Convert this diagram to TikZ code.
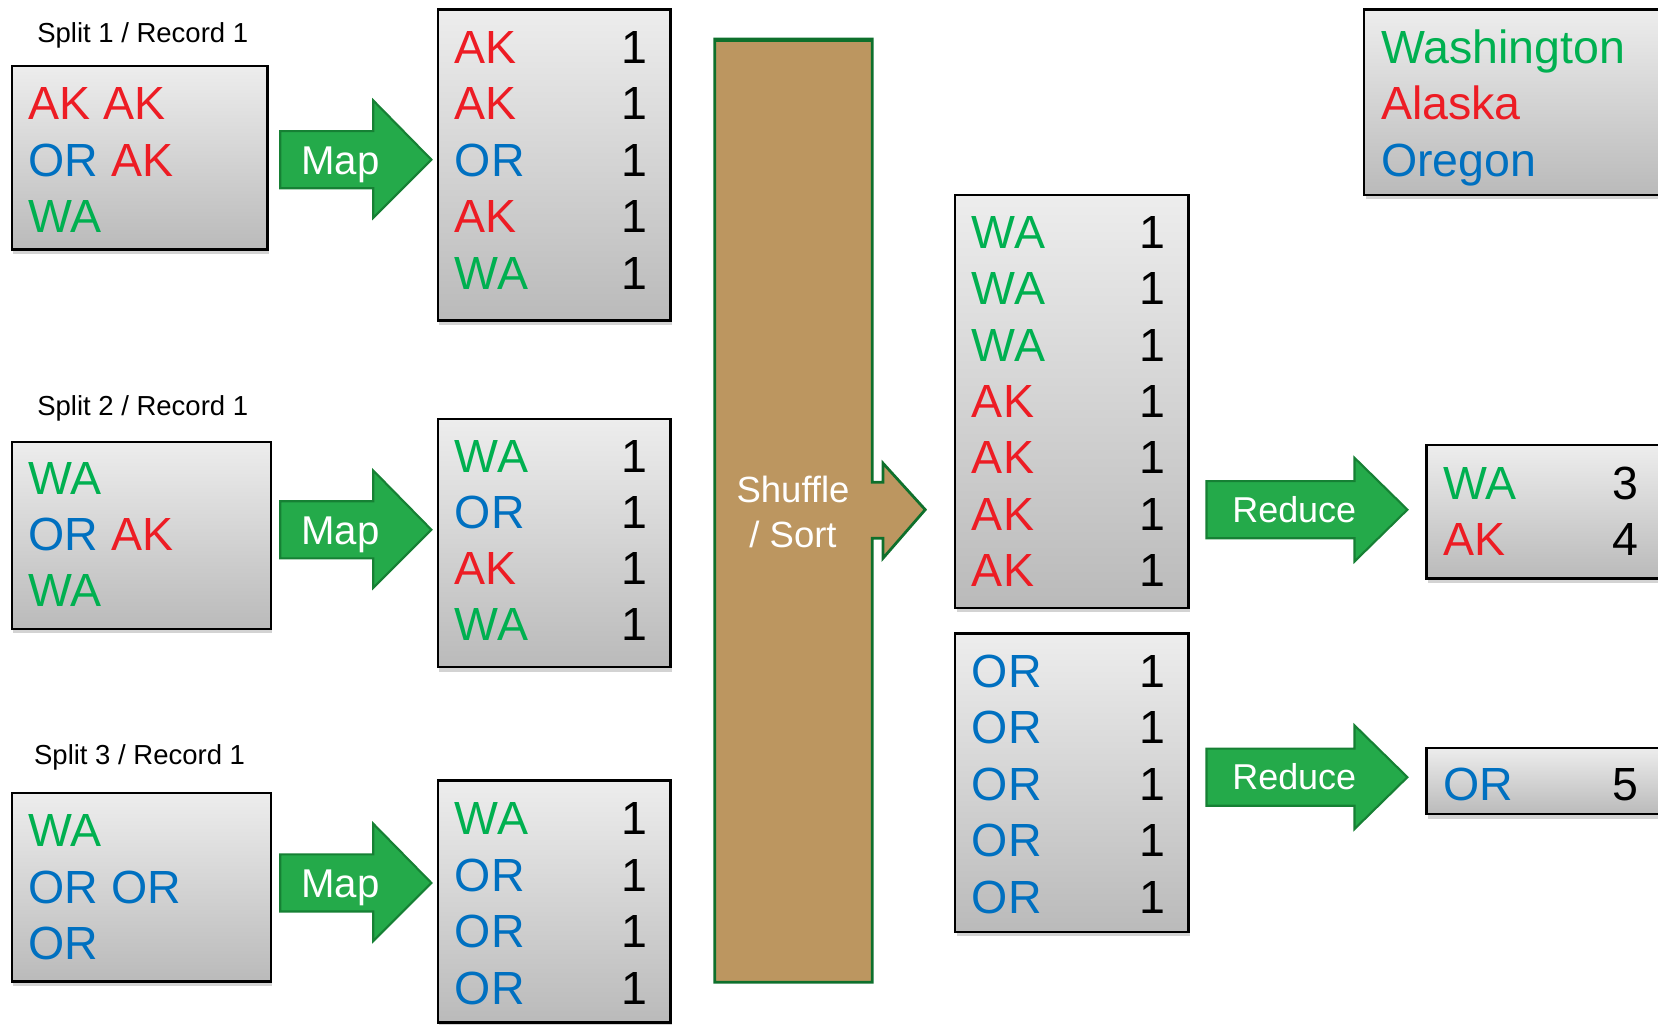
\documentclass[tikz,border=0pt]{standalone}
\usepackage{fontspec}
\setmainfont{Liberation Sans}
\usetikzlibrary{shadows}
\definecolor{akred}{RGB}{237,28,36}
\definecolor{wagreen}{RGB}{0,176,80}
\definecolor{orblue}{RGB}{0,112,192}
\definecolor{boxtop}{RGB}{237,237,237}
\definecolor{boxbot}{RGB}{186,186,186}
\definecolor{arrowfill}{RGB}{36,170,74}
\definecolor{arrowedge}{RGB}{22,128,52}
\definecolor{tanfill}{RGB}{188,150,96}
\definecolor{tanedge}{RGB}{14,112,44}
\begin{document}
\begin{tikzpicture}[x=1pt,y=-1pt,
  box/.style={draw=black, line width=2.2pt, top color=boxtop, bottom color=boxbot,
    drop shadow={shadow xshift=1.5pt, shadow yshift=-4pt, opacity=0.35},
    anchor=north west, inner sep=0pt},
  keytext/.style={font=\fontsize{44}{44}\selectfont, anchor=base west, inner sep=0pt},
  numtext/.style={font=\fontsize{44}{44}\selectfont, anchor=base, inner sep=0pt},
  splitlabel/.style={font=\fontsize{26}{26}\selectfont, anchor=center, inner sep=0pt},
  blockarrow/.style={fill=arrowfill, draw=arrowedge, line width=2pt, line join=miter},
  arrowlabel/.style={text=white, anchor=base, inner sep=0pt}]
\useasboundingbox (0,0) rectangle (1568,969);
\clip (0,0) rectangle (1568,969);

% ---------- split labels ----------
\node[splitlabel] (lab1) at (135,33) {Split 1 / Record 1};
\node[splitlabel] (lab2) at (135,386) {Split 2 / Record 1};
\node[splitlabel] (lab3) at (132,716) {Split 3 / Record 1};

% ---------- input boxes ----------
\node[box, minimum width=242pt, minimum height=174pt] (in1) at (10,61) {};
\node[box, minimum width=245pt, minimum height=177pt] (in2) at (10,417) {};
\node[box, minimum width=245pt, minimum height=178pt] (in3) at (10,749) {};

\node[keytext] (in1a) at (27,113) {\color{akred}AK AK};
\node[keytext] (in1b) at (27,167) {\color{orblue}OR \color{akred}AK};
\node[keytext] (in1c) at (27,220) {\color{wagreen}WA};

\node[keytext] (in2a) at (27,468) {\color{wagreen}WA};
\node[keytext] (in2b) at (27,521) {\color{orblue}OR \color{akred}AK};
\node[keytext] (in2c) at (27,574) {\color{wagreen}WA};

\node[keytext] (in3a) at (27,801) {\color{wagreen}WA};
\node[keytext] (in3b) at (27,854) {\color{orblue}OR OR};
\node[keytext] (in3c) at (27,907) {\color{orblue}OR};

% ---------- map arrows ----------
\foreach \yc/\nm in {151/1,501/2,835/3}{
  \draw[blockarrow] (265,\yc-27) -- (353,\yc-27) -- (353,\yc-56) -- (408,\yc)
     -- (353,\yc+55) -- (353,\yc+27) -- (265,\yc+27) -- cycle;
  \node[arrowlabel, font=\fontsize{38}{38}\selectfont] (map\nm) at (322,\yc+14) {Map};
}

% ---------- map output boxes ----------
\node[box, minimum width=220pt, minimum height=294pt] (m1) at (413,8) {};
\node[box, minimum width=220pt, minimum height=235pt] (m2) at (413,395) {};
\node[box, minimum width=220pt, minimum height=229pt] (m3) at (413,737) {};

\foreach \b/\k/\c [count=\i] in {60/AK/akred,113/AK/akred,167/OR/orblue,220/AK/akred,274/WA/wagreen}{
  \node[keytext, text=\c] (m1k\i) at (430,\b) {\k};
  \node[numtext] (m1n\i) at (600,\b) {1};
}
\foreach \b/\k/\c [count=\i] in {447/WA/wagreen,500/OR/orblue,553/AK/akred,606/WA/wagreen}{
  \node[keytext, text=\c] (m2k\i) at (430,\b) {\k};
  \node[numtext] (m2n\i) at (600,\b) {1};
}
\foreach \b/\k/\c [count=\i] in {789/WA/wagreen,843/OR/orblue,896/OR/orblue,950/OR/orblue}{
  \node[keytext, text=\c] (m3k\i) at (430,\b) {\k};
  \node[numtext] (m3n\i) at (600,\b) {1};
}

% ---------- shuffle / sort ----------
\draw[fill=tanfill, draw=tanedge, line width=2.6pt]
  (676,37) -- (825,37) -- (825,456) -- (835,456) -- (835,438) -- (875,482)
  -- (835,528) -- (835,509) -- (825,509) -- (825,929) -- (676,929) -- cycle;
\draw[draw=tanedge, line width=4pt] (676,38) -- (825,38);
\node[text=white, font=\fontsize{34.5}{42}\selectfont, align=center, inner sep=0pt]
  (shuffle) at (750,484) {Shuffle\\/ Sort};

% ---------- grouped boxes ----------
\node[box, minimum width=221pt, minimum height=391pt] (g1) at (902,183) {};
\node[box, minimum width=221pt, minimum height=282pt] (g2) at (902,598) {};

\foreach \b/\k/\c [count=\i] in {235/WA/wagreen,288/WA/wagreen,342/WA/wagreen,395/AK/akred,448/AK/akred,502/AK/akred,555/AK/akred}{
  \node[keytext, text=\c] (g1k\i) at (919,\b) {\k};
  \node[numtext] (g1n\i) at (1090,\b) {1};
}
\foreach \b [count=\i] in {650,703,757,810,864}{
  \node[keytext, text=orblue] (g2k\i) at (919,\b) {OR};
  \node[numtext] (g2n\i) at (1090,\b) {1};
}

% ---------- reduce arrows ----------
\foreach \yc/\nm in {482/1,735/2}{
  \draw[blockarrow] (1141,\yc-27) -- (1281,\yc-27) -- (1281,\yc-49) -- (1331,\yc)
     -- (1281,\yc+49) -- (1281,\yc+27) -- (1141,\yc+27) -- cycle;
  \node[arrowlabel, font=\fontsize{34}{34}\selectfont] (red\nm) at (1224,\yc+12) {Reduce};
}

% ---------- results ----------
\node[box, minimum width=260pt, minimum height=126pt] (r1) at (1348,420) {};
\node[box, minimum width=260pt, minimum height=63pt] (r2) at (1348,706) {};
\node[keytext, text=wagreen] (r1k1) at (1365,472) {WA};
\node[numtext] (r1n1) at (1537,472) {3};
\node[keytext, text=akred] (r1k2) at (1365,525) {AK};
\node[numtext] (r1n2) at (1537,525) {4};
\node[keytext, text=orblue] (r2k1) at (1365,757) {OR};
\node[numtext] (r2n1) at (1537,757) {5};

% ---------- legend ----------
\node[box, minimum width=320pt, minimum height=175pt] (leg) at (1289,8) {};
\node[keytext, text=wagreen] (legwa) at (1306,60) {Washington};
\node[keytext, text=akred] (legak) at (1306,113) {Alaska};
\node[keytext, text=orblue] (legor) at (1306,167) {Oregon};
\end{tikzpicture}
\end{document}
